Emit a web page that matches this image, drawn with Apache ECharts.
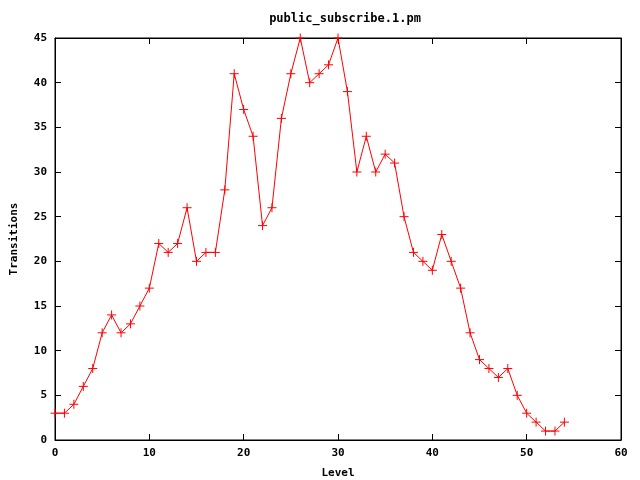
<!DOCTYPE html>
<html><head><meta charset="utf-8">
<script src="https://cdn.jsdelivr.net/npm/echarts@6/dist/echarts.min.js"></script>
<style>html,body{margin:0;padding:0;background:#fff}#c{width:640px;height:480px}</style>
</head><body><div id="c"></div>
<script>
const titleText = 'public_subscribe.1.pm';
const xName = 'Level';
const yName = 'Transitions';
const levels = [0,1,2,3,4,5,6,7,8,9,10,11,12,13,14,15,16,17,18,19,20,21,22,23,24,25,26,27,28,29,30,31,32,33,34,35,36,37,38,39,40,41,42,43,44,45,46,47,48,49,50,51,52,53,54];
const transitions = [3,3,4,6,8,12,14,12,13,15,17,22,21,22,26,20,21,21,28,41,37,34,24,26,36,41,45,40,41,42,45,39,30,34,30,32,31,25,21,20,19,23,20,17,12,9,8,7,8,5,3,2,1,1,2];

const font = 'DejaVu Sans Mono';
const lab = {fontFamily: font, fontWeight: 'bold', fontSize: 11, color: '#000'};
const chart = echarts.init(document.getElementById('c'), null, {renderer: 'canvas'});
const plus = 'path://M0,5L10,5M5,0L5,10';
const frameAxis = (pos) => ({
  axisLine: {show: true, onZero: false, lineStyle: {color: '#000'}},
  axisTick: {inside: true, length: 6, lineStyle: {color: '#000'}},
  splitLine: {show: false}, position: pos
});
chart.setOption({
  animation: false,
  backgroundColor: '#fff',
  title: {text: titleText, left: 340, textAlign: 'center', top: 8,
    textStyle: {fontFamily: font, fontWeight: 'bold', fontSize: 12, color: '#000'}},
  grid: {left: 55, right: 19, top: 38, bottom: 40, show: true, borderColor: '#000', borderWidth: 1,
    containLabel: false, outerBoundsMode: 'none'},
  xAxis: [Object.assign(frameAxis('bottom'), {type: 'value', min: 0, max: 60, interval: 10,
      name: xName, nameLocation: 'middle', nameGap: 28, nameTextStyle: lab,
      axisLabel: Object.assign({margin: 8}, lab)}),
    Object.assign(frameAxis('top'), {type: 'value', min: 0, max: 60, interval: 10, axisLabel: {show: false}})],
  yAxis: [Object.assign(frameAxis('left'), {type: 'value', min: 0, max: 45, interval: 5,
      name: yName, nameLocation: 'middle', nameGap: 35, nameRotate: 90, nameTextStyle: lab,
      axisLabel: Object.assign({margin: 8}, lab)}),
    Object.assign(frameAxis('right'), {type: 'value', min: 0, max: 45, interval: 5, axisLabel: {show: false}})],
  series: [{type: 'line', data: levels.map((x, i) => [x, transitions[i]]),
    symbol: plus, symbolSize: 9, showAllSymbol: true,
    lineStyle: {color: '#ff0000', width: 1},
    itemStyle: {color: '#ff0000', borderColor: '#ff0000', borderWidth: 1},
    z: 3}]
});
</script></body></html>
